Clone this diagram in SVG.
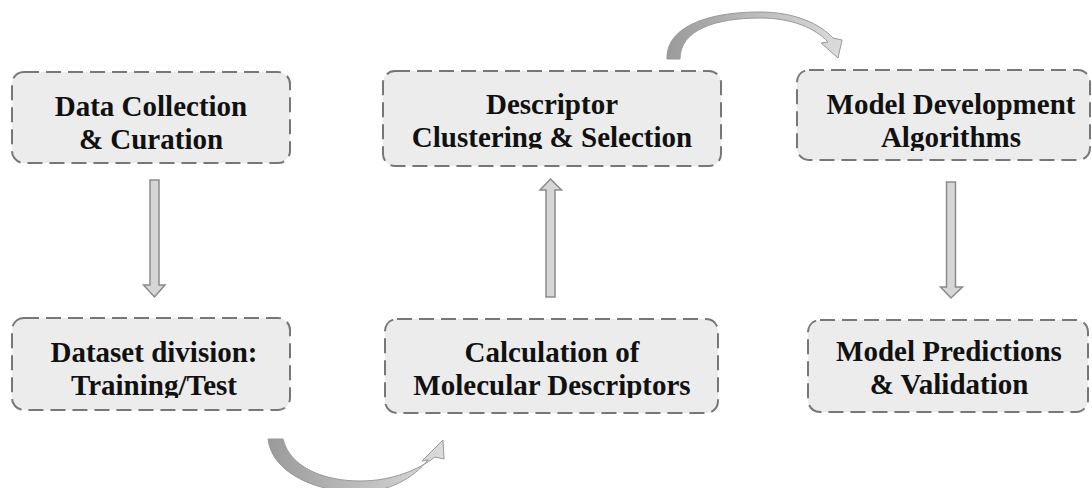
<svg xmlns="http://www.w3.org/2000/svg" width="1092" height="488" viewBox="0 0 1092 488">
<style>
.box{fill:#ececec;stroke:#777;stroke-width:2;stroke-dasharray:15 7}
.lbl{font-family:'Liberation Serif','Times New Roman',serif;font-weight:bold;font-size:29px;fill:#111;text-anchor:middle}
.arr{fill:#d6d6d6;stroke:#8a8a8a;stroke-width:1.5}
.curve{stroke:#999;stroke-width:1}
</style>
<defs>
<linearGradient id="gTop" x1="667" y1="0" x2="842" y2="0" gradientUnits="userSpaceOnUse">
<stop offset="0" stop-color="#9a9a9a"/><stop offset="1" stop-color="#dcdcdc"/>
</linearGradient>
<linearGradient id="gBot" x1="268" y1="0" x2="444" y2="0" gradientUnits="userSpaceOnUse">
<stop offset="0" stop-color="#9a9a9a"/><stop offset="1" stop-color="#dcdcdc"/>
</linearGradient>
<clipPath id="c2"><rect x="383" y="60" width="340" height="89"/></clipPath>
<clipPath id="c3"><rect x="797" y="60" width="295" height="91"/></clipPath>
<clipPath id="c4"><rect x="12" y="310" width="280" height="88"/></clipPath>
<clipPath id="c5"><rect x="385" y="310" width="335" height="88"/></clipPath>
</defs>
<rect width="1092" height="488" fill="#fff"/>

<g id="node-data-collection">
<rect class="box" x="12" y="72" width="278" height="91" rx="12"/>
<text class="lbl" x="151" y="116">Data Collection</text>
<text class="lbl" x="151" y="149">&amp; Curation</text>
</g>

<g id="node-descriptor-clustering">
<rect class="box" x="383" y="71" width="338" height="95" rx="12"/>
<g clip-path="url(#c2)">
<text class="lbl" x="552" y="114">Descriptor</text>
<text class="lbl" x="552" y="147">Clustering &amp; Selection</text>
</g>
</g>

<g id="node-model-development">
<rect class="box" x="797" y="70" width="293" height="90" rx="12"/>
<g clip-path="url(#c3)">
<text class="lbl" x="951" y="114">Model Development</text>
<text class="lbl" x="951" y="147">Algorithms</text>
</g>
</g>

<g id="node-dataset-division">
<rect class="box" x="12" y="318" width="278" height="92" rx="12"/>
<g clip-path="url(#c4)">
<text class="lbl" x="154" y="362">Dataset division:</text>
<text class="lbl" x="154" y="395">Training/Test</text>
</g>
</g>

<g id="node-calculation">
<rect class="box" x="385" y="319" width="333" height="94" rx="12"/>
<g clip-path="url(#c5)">
<text class="lbl" x="552" y="362">Calculation of</text>
<text class="lbl" x="552" y="395">Molecular Descriptors</text>
</g>
</g>

<g id="node-model-predictions">
<rect class="box" x="808" y="320" width="280" height="92" rx="12"/>
<text class="lbl" x="949" y="361">Model Predictions</text>
<text class="lbl" x="949" y="394">&amp; Validation</text>
</g>

<g id="connectors">
<path class="arr" d="M150,180 H159 V285 H165 L154.5,297 L143.5,285 H150 Z"/>
<path class="arr" d="M546,297 H555 V190 H561.5 L550.5,179 L540,190 H546 Z"/>
<path class="arr" d="M946.5,182 H955.5 V287 H962.5 L951,298 L940.5,287 H946.5 Z"/>
<path class="curve" fill="url(#gTop)" d="M667,59 C666,28 705,12 760,12 C795,12 820,24 833,38 L842,40 L838,58 L821,43 L828,42 C815,28 792,18 760,18 C715,18 680,30 680,59 Z"/>
<path class="curve" fill="url(#gBot)" d="M268,439 L283,439 C290,468 325,481 360,481 C392,481 418,470 435,457 L444,459 L443,440 L422,461 L428,460 C413,478 390,492 358,492 C318,492 272,474 268,439 Z"/>
</g>
</svg>
